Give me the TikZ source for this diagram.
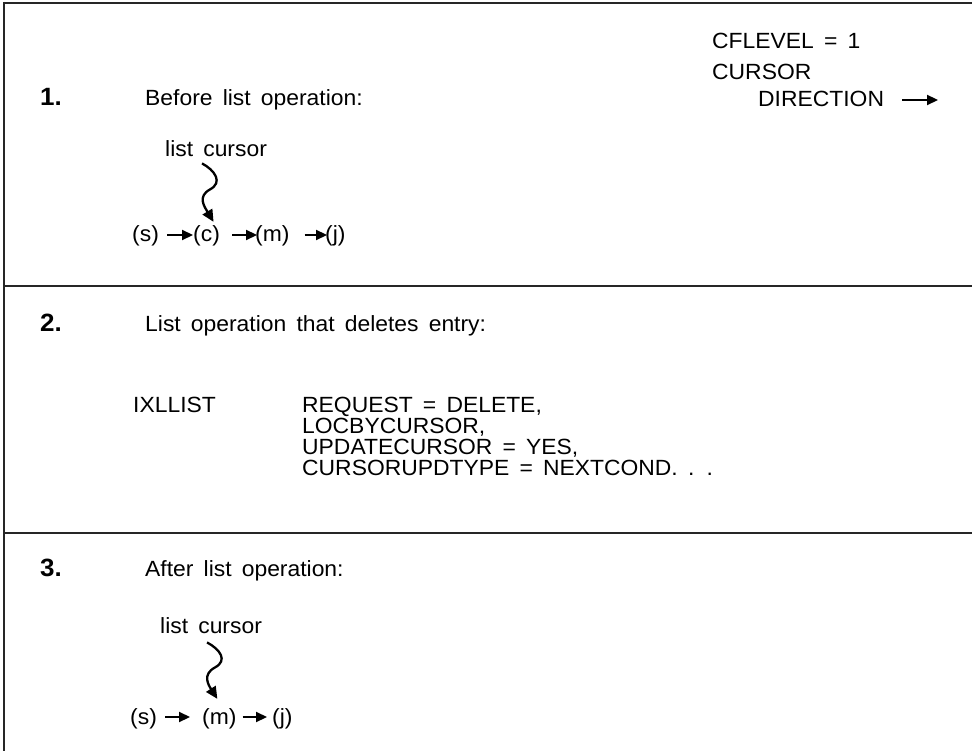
\documentclass[tikz,border=0pt]{standalone}
\usepackage{fontspec}
\setmainfont{Liberation Sans}[FakeStretch=1.04,WordSpace=1.6]
\usetikzlibrary{arrows.meta}
\tikzset{
  txt/.style={anchor=base west, inner sep=0pt, font=\fontsize{22}{19}\selectfont},
  num/.style={anchor=base west, inner sep=0pt, font=\fontsize{25}{26}\selectfont\bfseries},
  frame/.style={line width=2.4pt, draw=black!85},
  arr/.style={line width=2.2pt, -{Triangle[length=11pt,width=10pt]}},
  squig/.style={line width=2.3pt, -{Triangle[length=12pt,width=11pt]}}
}
\begin{document}
\begin{tikzpicture}[x=1pt,y=-1pt]
\useasboundingbox (0,0) rectangle (972,751);
% frame lines
\draw[frame] (4,3) -- (972,3);
\draw[frame] (4,2) -- (4,751);
\draw[frame] (3,286) -- (972,286);
\draw[frame] (3,533) -- (972,533);

% section 1
\node[num] (n1) at (40,106) {1.};
\node[txt] (t1) at (145,106) {Before list operation:};
\node[txt] (cf) at (712,49) {CFLEVEL = 1};
\node[txt] (cu) at (712,80) {CURSOR};
\node[txt] (di) at (758,107) {DIRECTION};
\coordinate (diend) at (938,100);
\draw[arr] ([xshift=18pt,yshift=7pt]di.base east) -- (diend);

\node[txt] (lc1) at (165,157) {list cursor};
\node[txt] (s1) at (132,242) {(s)};
\node[txt] (c1) at (193,242) {(c)};
\node[txt] (m1) at (255,242) {(m)};
\node[txt] (j1) at (325,242) {(j)};
\draw[arr] ([xshift=8pt,yshift=7pt]s1.base east) -- ([yshift=7pt]c1.base west);
\draw[arr] ([xshift=12pt,yshift=7pt]c1.base east) -- ([xshift=2pt,yshift=7pt]m1.base west);
\draw[arr] ([xshift=15pt,yshift=7pt]m1.base east) -- ([xshift=2pt,yshift=7pt]j1.base west);
\draw[squig] ([xshift=-14pt,yshift=-6pt]lc1.south) .. controls +(13,7) and +(13,-7) .. ++(8,26)
  .. controls +(-13,7) and +(-9,-15) .. ([xshift=7pt,yshift=4pt]c1.north);

% section 2
\node[num] (n2) at (40,331) {2.};
\node[txt] (t2) at (145,331) {List operation that deletes entry:};
\node[txt] (ix) at (133,412) {IXLLIST};
\node[txt] (p1) at (302,412) {REQUEST = DELETE,};
\node[txt] (p2) at (302,433) {LOCBYCURSOR,};
\node[txt] (p3) at (302,454) {UPDATECURSOR = YES,};
\node[txt] (p4) at (302,475) {CURSORUPDTYPE = NEXTCOND. . .};

% section 3
\node[num] (n3) at (40,576) {3.};
\node[txt] (t3) at (145,576) {After list operation:};
\node[txt] (lc3) at (160,633) {list cursor};
\node[txt] (s3) at (130,724) {(s)};
\node[txt] (m3) at (202,724) {(m)};
\node[txt] (j3) at (272,724) {(j)};
\draw[arr] ([xshift=8pt,yshift=7pt]s3.base east) -- ([xshift=-12pt,yshift=7pt]m3.base west);
\draw[arr] ([xshift=6pt,yshift=7pt]m3.base east) -- ([xshift=-5pt,yshift=7pt]j3.base west);
\draw[squig] ([xshift=-4pt,yshift=-9pt]lc3.south) .. controls +(13,7) and +(13,-7) .. ++(8,25)
  .. controls +(-13,7) and +(-9,-14) .. ([xshift=-2pt,yshift=9pt]m3.north);
\end{tikzpicture}
\end{document}
